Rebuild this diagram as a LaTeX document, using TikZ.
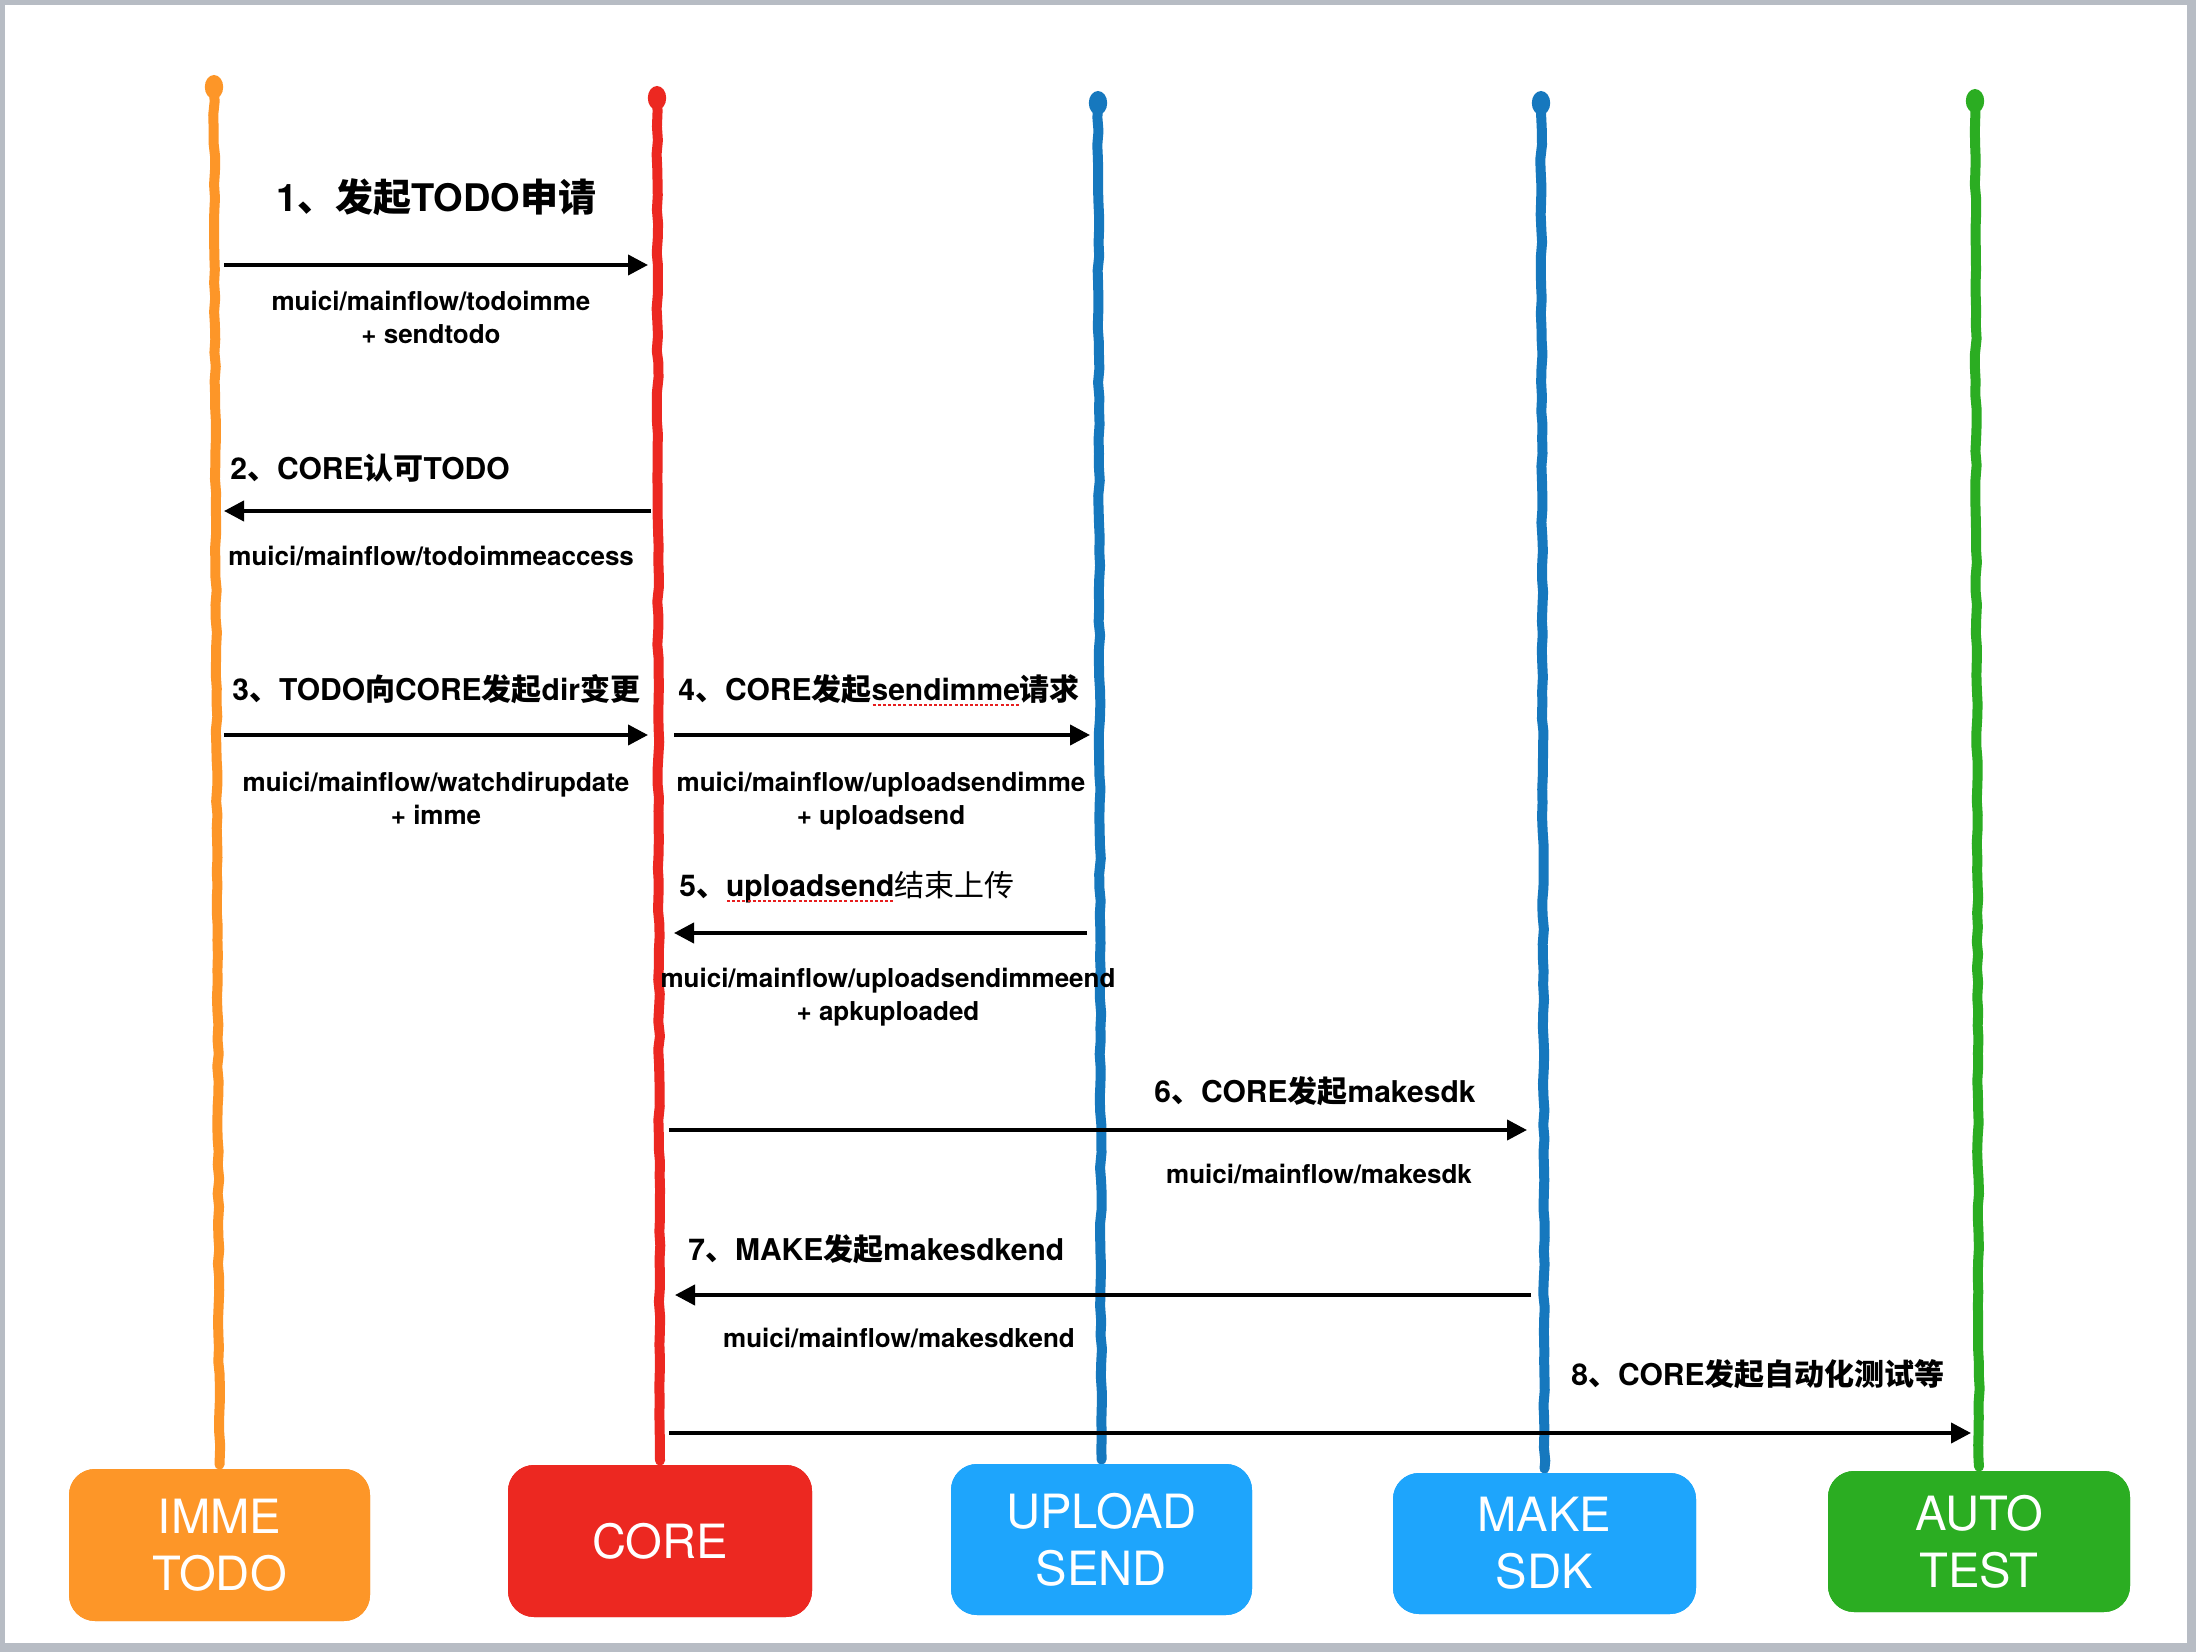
\documentclass[tikz,border=0pt]{standalone}
\usepackage{fontspec}
\setmainfont{TeX Gyre Heros}
\newfontfamily\cjkfont{Noto Sans CJK SC}
\usetikzlibrary{arrows.meta,decorations.pathmorphing}
\definecolor{immeC}{RGB}{253,150,40}
\definecolor{coreC}{RGB}{236,40,33}
\definecolor{boxblue}{RGB}{30,165,252}
\definecolor{lineblue}{RGB}{22,120,190}
\definecolor{greenC}{RGB}{43,173,34}
\definecolor{frameC}{RGB}{183,188,196}
\definecolor{spellred}{RGB}{230,30,30}
\newcommand\zh[1]{{\cjkfont #1}}
\newsavebox\ulbox
\newcommand\spellul[1]{\sbox\ulbox{#1}\rlap{\usebox\ulbox}\raisebox{-2.6pt}{\color{spellred}\hbox to \wd\ulbox{\xleaders\hbox to 2.5pt{\hss\rule{1.5pt}{1pt}\hss}\hfill}}}
\begin{document}
\begin{tikzpicture}[x=0.5pt,y=-0.5pt,
  lifeline/.style={line width=5pt, line cap=round, line join=round,
    decorate, decoration={random steps, segment length=7pt, amplitude=0.45pt}},
  box/.style={rounded corners=13pt, inner sep=0pt, text=white, align=center,
    font=\fontsize{23.6}{28.5}\selectfont},
  msg/.style={line width=2pt, -{Triangle[length=10pt,width=10pt]}},
  steplbl/.style={anchor=west, inner sep=0pt, font=\bfseries\fontsize{15}{18}\selectfont},
  pathlbl/.style={inner sep=0pt, align=center, font=\bfseries\fontsize{13}{16.5}\selectfont}]
\pgfmathsetseed{4217}
% frame
\fill[frameC] (0,0) rectangle (2196,1652);
\fill[white] (5,5) rectangle (2187,1643);
\useasboundingbox (0,0) rectangle (2196,1652);

% boxes (positions)
\path node[box, fill=immeC, minimum width=150.5pt, minimum height=76pt] (imme) at (219.5,1545) {};
\path node[box, fill=coreC, minimum width=152pt, minimum height=76pt] (core) at (660,1541) {};
\path node[box, fill=boxblue, minimum width=150.5pt, minimum height=75.5pt] (upload) at (1101.5,1539.5) {};
\path node[box, fill=boxblue, minimum width=151.5pt, minimum height=70.5pt] (make) at (1544.5,1543.5) {};
\path node[box, fill=greenC, minimum width=151pt, minimum height=70.5pt] (auto) at (1979,1541.5) {};

% lifeline tops
\coordinate (Limme) at (214,87);
\coordinate (Lcore) at (657,98);
\coordinate (Lupload) at (1098,103);
\coordinate (Lmake) at (1541,103);
\coordinate (Lauto) at (1975,101);

% lifelines
\draw[lifeline, immeC] (Limme) -- ([yshift=2pt]imme.north);
\draw[lifeline, coreC] (Lcore) -- ([yshift=2pt]core.north);
\draw[lifeline, lineblue] (Lupload) -- ([yshift=2pt]upload.north);
\draw[lifeline, lineblue] (Lmake) -- ([yshift=2pt]make.north);
\draw[lifeline, greenC] (Lauto) -- ([yshift=2pt]auto.north);
\fill[immeC] (Limme) ellipse [x radius=4.6pt, y radius=6pt];
\fill[coreC] (Lcore) ellipse [x radius=4.6pt, y radius=6pt];
\fill[lineblue] (Lupload) ellipse [x radius=4.6pt, y radius=6pt];
\fill[lineblue] (Lmake) ellipse [x radius=4.6pt, y radius=6pt];
\fill[greenC] (Lauto) ellipse [x radius=4.6pt, y radius=6pt];

% boxes drawn over the lifelines
\node[box, fill=immeC, minimum width=150.5pt, minimum height=76pt] at (imme) {IMME\\TODO};
\node[box, fill=coreC, minimum width=152pt, minimum height=76pt] at (core) {CORE};
\node[box, fill=boxblue, minimum width=150.5pt, minimum height=75.5pt] at (upload) {UPLOAD\\SEND};
\node[box, fill=boxblue, minimum width=151.5pt, minimum height=70.5pt] at (make) {MAKE\\SDK};
\node[box, fill=greenC, minimum width=151pt, minimum height=70.5pt] at (auto) {AUTO\\TEST};

% messages
\draw[msg] ([xshift=5pt]Limme |- 0,265) -- ([xshift=-4.5pt]Lcore |- 0,265);
\draw[msg] ([xshift=-3pt]Lcore |- 0,511) -- ([xshift=5pt]Limme |- 0,511);
\draw[msg] ([xshift=5pt]Limme |- 0,735) -- ([xshift=-4.5pt]Lcore |- 0,735);
\draw[msg] ([xshift=8.5pt]Lcore |- 0,735) -- ([xshift=-4pt]Lupload |- 0,735);
\draw[msg] ([xshift=-5.5pt]Lupload |- 0,933) -- ([xshift=8.5pt]Lcore |- 0,933);
\draw[msg] ([xshift=6pt]Lcore |- 0,1130) -- ([xshift=-7pt]Lmake |- 0,1130);
\draw[msg] ([xshift=-5pt]Lmake |- 0,1295) -- ([xshift=9pt]Lcore |- 0,1295);
\draw[msg] ([xshift=6pt]Lcore |- 0,1433) -- ([xshift=-2pt]Lauto |- 0,1433);

% step labels
\node[steplbl, font=\bfseries\fontsize{19}{22}\selectfont] (s1) at (276,197) {1\zh{、发起}TODO\zh{申请}};
\node[steplbl] (s2) at (230,468) {2\zh{、}CORE\zh{认可}TODO};
\node[steplbl] (s3) at (232,689) {3\zh{、}TODO\zh{向}CORE\zh{发起}dir\zh{变更}};
\node[steplbl] (s4) at (678,690) {4\zh{、}CORE\zh{发起}\spellul{sendimme}\zh{请求}};
\node[steplbl] (s5) at (679,887) {5\zh{、}\spellul{uploadsend}{\mdseries\zh{结束上传}}};
\node[steplbl] (s6) at (1154,1091) {6\zh{、}CORE\zh{发起}makesdk};
\node[steplbl] (s7) at (688,1249) {7\zh{、}MAKE\zh{发起}makesdkend};
\node[steplbl] (s8) at (1571,1374) {8\zh{、}CORE\zh{发起自动化测试等}};

% path labels
\node[pathlbl] (p1) at (431,317) {muici/mainflow/todoimme\\+ sendtodo};
\node[pathlbl, anchor=west] (p2) at (228,556) {muici/mainflow/todoimmeaccess};
\node[pathlbl] (p3) at (436,798) {muici/mainflow/watchdirupdate\\+ imme};
\node[pathlbl] (p4) at (881,801) {muici/mainflow/uploadsendimme\\+ uploadsend};
\node[pathlbl] (p5) at (888,997) {muici/mainflow/uploadsendimmeend\\+ apkuploaded};
\node[pathlbl] (p6) at (1319,1174) {muici/mainflow/makesdk};
\node[pathlbl] (p7) at (899,1338) {muici/mainflow/makesdkend};
\end{tikzpicture}
\end{document}
